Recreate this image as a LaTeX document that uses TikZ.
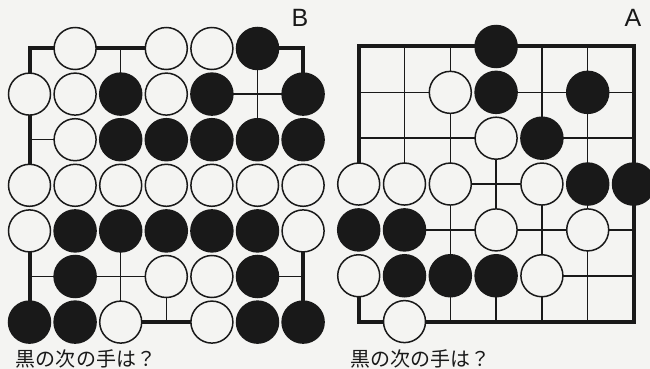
\documentclass[tikz,border=0pt]{standalone}
\usepackage{fontspec}
\newfontfamily\cjk{Noto Sans CJK JP}
\newfontfamily\lab{Liberation Sans}
\definecolor{paper}{RGB}{244,244,242}
\definecolor{ink}{RGB}{25,25,25}
\tikzset{
  borderln/.style={draw=ink,line width=4pt,line join=miter},
  gline/.style={draw=ink,line width=1.5pt},
  wst/.style={draw=ink,fill=paper,line width=1.5pt},
  bst/.style={draw=ink,fill=ink,line width=1.5pt},
  captxt/.style={font=\cjk\fontsize{20}{21}\selectfont,inner sep=0pt,anchor=base,text=ink},
  lbltxt/.style={font=\lab\fontsize{25}{26}\selectfont,inner sep=0pt,anchor=base,text=ink}
}
\begin{document}
\begin{tikzpicture}[x=1pt,y=-1pt]
\fill[paper] (0,0) rectangle (650,369);
\useasboundingbox (0,0) rectangle (650,369);
% ---------------- Board B ----------------
\begin{scope}[shift={(29.5pt,-48.5pt)},x=45.6pt,y=-45.6pt]
  \draw[borderln] (1,0)--(0,0)--(0,3);
  \draw[borderln] (1,0)--(3,0);
  \draw[borderln] (5,0)--(6,0)--(6,1);
  \draw[borderln] (0,4)--(0,6);
  \draw[borderln] (6,4)--(6,6);
  \draw[borderln] (2,6)--(4,6);
  \draw[gline] (4,1)--(6,1);
  \draw[gline] (0,2)--(1,2);
  \draw[gline] (0,5)--(3,5);
  \draw[gline] (5,5)--(6,5);
  \draw[gline] (2,0)--(2,1);
  \draw[gline] (2,4)--(2,6);
  \draw[gline] (3,5)--(3,6);
  \draw[gline] (5,0)--(5,2);
  \foreach \p in {(1,0),(3,0),(4,0),(0,1),(1,1),(3,1),(1,2),
    (0,3),(1,3),(2,3),(3,3),(4,3),(5,3),(6,3),(0,4),(6,4),(3,5),(4,5),(2,6),(4,6)}
    \draw[wst] \p circle[radius=21pt];
  \foreach \p in {(5,0),(2,1),(4,1),(6,1),(2,2),(3,2),(4,2),(5,2),(6,2),
    (1,4),(2,4),(3,4),(4,4),(5,4),(1,5),(5,5),(0,6),(1,6),(5,6),(6,6)}
    \draw[bst] \p circle[radius=21pt];
\end{scope}
\node[lbltxt] (labB) at (300,27) {B};
\node[captxt] (capB) at (86,366.5) {黒の次の手は？};
% ---------------- Board A ----------------
\begin{scope}[shift={(358.7pt,-46.5pt)},x=45.8pt,y=-45.85pt]
  \draw[borderln] (0,3)--(0,0)--(6,0)--(6,6)--(0,6)--(0,5);
  \draw[gline] (0,1)--(2,1);
  \draw[gline] (3,1)--(6,1);
  \draw[gline] (0,2)--(3,2);
  \draw[gline] (4,2)--(6,2);
  \draw[gline] (2,3)--(4,3);
  \draw[gline] (1,4)--(6,4);
  \draw[gline] (4,5)--(6,5);
  \draw[gline] (1,0)--(1,3);
  \draw[gline] (2,0)--(2,6);
  \draw[gline] (3,2)--(3,4);
  \draw[gline] (3,5)--(3,6);
  \draw[gline] (4,0)--(4,2);
  \draw[gline] (4,3)--(4,6);
  \draw[gline] (5,0)--(5,6);
  \foreach \p in {(2,1),(3,2),(0,3),(1,3),(2,3),(4,3),(3,4),(5,4),(0,5),(4,5),(1,6)}
    \draw[wst] \p circle[radius=21pt];
  \foreach \p in {(3,0),(3,1),(5,1),(4,2),(5,3),(6,3),(0,4),(1,4),(1,5),(2,5),(3,5)}
    \draw[bst] \p circle[radius=21pt];
\end{scope}
\node[lbltxt] (labA) at (633,27) {A};
\node[captxt] (capA) at (420,366.5) {黒の次の手は？};
\end{tikzpicture}
\end{document}
